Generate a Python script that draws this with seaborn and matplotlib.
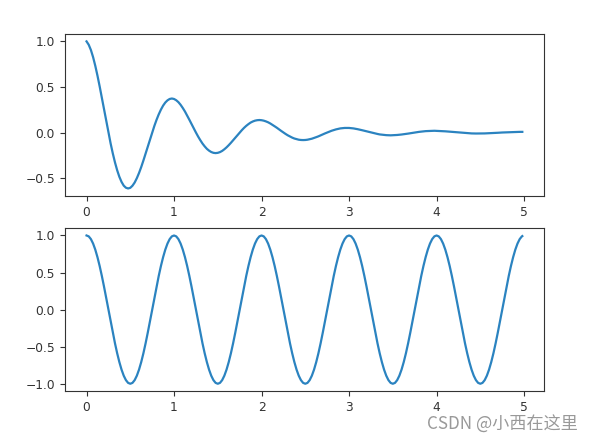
import numpy as np
import pandas as pd
import matplotlib
matplotlib.use("Agg")
import matplotlib.pyplot as plt
import seaborn as sb

# time samples (step 0.025, last point 4.98)
t = [0.000, 0.025, 0.050, 0.075, 0.100, 0.125, 0.150, 0.175, 0.200, 0.225,
     0.250, 0.275, 0.300, 0.325, 0.350, 0.375, 0.400, 0.425, 0.450, 0.475,
     0.500, 0.525, 0.550, 0.575, 0.600, 0.625, 0.650, 0.675, 0.700, 0.725,
     0.750, 0.775, 0.800, 0.825, 0.850, 0.875, 0.900, 0.925, 0.950, 0.975,
     1.000, 1.025, 1.050, 1.075, 1.100, 1.125, 1.150, 1.175, 1.200, 1.225,
     1.250, 1.275, 1.300, 1.325, 1.350, 1.375, 1.400, 1.425, 1.450, 1.475,
     1.500, 1.525, 1.550, 1.575, 1.600, 1.625, 1.650, 1.675, 1.700, 1.725,
     1.750, 1.775, 1.800, 1.825, 1.850, 1.875, 1.900, 1.925, 1.950, 1.975,
     2.000, 2.025, 2.050, 2.075, 2.100, 2.125, 2.150, 2.175, 2.200, 2.225,
     2.250, 2.275, 2.300, 2.325, 2.350, 2.375, 2.400, 2.425, 2.450, 2.475,
     2.500, 2.525, 2.550, 2.575, 2.600, 2.625, 2.650, 2.675, 2.700, 2.725,
     2.750, 2.775, 2.800, 2.825, 2.850, 2.875, 2.900, 2.925, 2.950, 2.975,
     3.000, 3.025, 3.050, 3.075, 3.100, 3.125, 3.150, 3.175, 3.200, 3.225,
     3.250, 3.275, 3.300, 3.325, 3.350, 3.375, 3.400, 3.425, 3.450, 3.475,
     3.500, 3.525, 3.550, 3.575, 3.600, 3.625, 3.650, 3.675, 3.700, 3.725,
     3.750, 3.775, 3.800, 3.825, 3.850, 3.875, 3.900, 3.925, 3.950, 3.975,
     4.000, 4.025, 4.050, 4.075, 4.100, 4.125, 4.150, 4.175, 4.200, 4.225,
     4.250, 4.275, 4.300, 4.325, 4.350, 4.375, 4.400, 4.425, 4.450, 4.475,
     4.500, 4.525, 4.550, 4.575, 4.600, 4.625, 4.650, 4.675, 4.700, 4.725,
     4.750, 4.775, 4.800, 4.825, 4.850, 4.875, 4.900, 4.925, 4.950, 4.975,
     4.980]

# damped wave (upper panel)
damped = [1.000, 0.963, 0.905, 0.827, 0.732, 0.624, 0.506, 0.381, 0.253, 0.125,
          0.000, -0.119, -0.229, -0.328, -0.414, -0.486, -0.542, -0.583, -0.606, -0.614,
          -0.607, -0.584, -0.549, -0.501, -0.444, -0.379, -0.307, -0.231, -0.153, -0.076,
          0.000, 0.072, 0.139, 0.199, 0.251, 0.295, 0.329, 0.353, 0.368, 0.373,
          0.368, 0.354, 0.333, 0.304, 0.269, 0.230, 0.186, 0.140, 0.093, 0.046,
          0.000, -0.044, -0.084, -0.121, -0.152, -0.179, -0.199, -0.214, -0.223, -0.226,
          -0.223, -0.215, -0.202, -0.184, -0.163, -0.139, -0.113, -0.085, -0.056, -0.028,
          0.000, 0.026, 0.051, 0.073, 0.092, 0.109, 0.121, 0.130, 0.135, 0.137,
          0.135, 0.130, 0.122, 0.112, 0.099, 0.084, 0.068, 0.052, 0.034, 0.017,
          0.000, -0.016, -0.031, -0.044, -0.056, -0.066, -0.073, -0.079, -0.082, -0.083,
          -0.082, -0.079, -0.074, -0.068, -0.060, -0.051, -0.042, -0.031, -0.021, -0.010,
          0.000, 0.010, 0.019, 0.027, 0.034, 0.040, 0.045, 0.048, 0.050, 0.050,
          0.050, 0.048, 0.045, 0.041, 0.036, 0.031, 0.025, 0.019, 0.013, 0.006,
          0.000, -0.006, -0.011, -0.016, -0.021, -0.024, -0.027, -0.029, -0.030, -0.031,
          -0.030, -0.029, -0.027, -0.025, -0.022, -0.019, -0.015, -0.012, -0.008, -0.004,
          0.000, 0.004, 0.007, 0.010, 0.013, 0.015, 0.016, 0.018, 0.018, 0.019,
          0.018, 0.018, 0.017, 0.015, 0.013, 0.011, 0.009, 0.007, 0.005, 0.002,
          0.000, -0.002, -0.004, -0.006, -0.008, -0.009, -0.010, -0.011, -0.011, -0.011,
          -0.011, -0.011, -0.010, -0.009, -0.008, -0.007, -0.006, -0.004, -0.003, -0.001,
          0.000, 0.001, 0.003, 0.004, 0.005, 0.005, 0.006, 0.006, 0.007, 0.007,
          0.007]

# plain cosine (lower panel)
wave = [1.000, 0.988, 0.951, 0.891, 0.809, 0.707, 0.588, 0.454, 0.309, 0.156,
        0.000, -0.156, -0.309, -0.454, -0.588, -0.707, -0.809, -0.891, -0.951, -0.988,
        -1.000, -0.988, -0.951, -0.891, -0.809, -0.707, -0.588, -0.454, -0.309, -0.156,
        0.000, 0.156, 0.309, 0.454, 0.588, 0.707, 0.809, 0.891, 0.951, 0.988,
        1.000, 0.988, 0.951, 0.891, 0.809, 0.707, 0.588, 0.454, 0.309, 0.156,
        0.000, -0.156, -0.309, -0.454, -0.588, -0.707, -0.809, -0.891, -0.951, -0.988,
        -1.000, -0.988, -0.951, -0.891, -0.809, -0.707, -0.588, -0.454, -0.309, -0.156,
        0.000, 0.156, 0.309, 0.454, 0.588, 0.707, 0.809, 0.891, 0.951, 0.988,
        1.000, 0.988, 0.951, 0.891, 0.809, 0.707, 0.588, 0.454, 0.309, 0.156,
        0.000, -0.156, -0.309, -0.454, -0.588, -0.707, -0.809, -0.891, -0.951, -0.988,
        -1.000, -0.988, -0.951, -0.891, -0.809, -0.707, -0.588, -0.454, -0.309, -0.156,
        0.000, 0.156, 0.309, 0.454, 0.588, 0.707, 0.809, 0.891, 0.951, 0.988,
        1.000, 0.988, 0.951, 0.891, 0.809, 0.707, 0.588, 0.454, 0.309, 0.156,
        0.000, -0.156, -0.309, -0.454, -0.588, -0.707, -0.809, -0.891, -0.951, -0.988,
        -1.000, -0.988, -0.951, -0.891, -0.809, -0.707, -0.588, -0.454, -0.309, -0.156,
        0.000, 0.156, 0.309, 0.454, 0.588, 0.707, 0.809, 0.891, 0.951, 0.988,
        1.000, 0.988, 0.951, 0.891, 0.809, 0.707, 0.588, 0.454, 0.309, 0.156,
        0.000, -0.156, -0.309, -0.454, -0.588, -0.707, -0.809, -0.891, -0.951, -0.988,
        -1.000, -0.988, -0.951, -0.891, -0.809, -0.707, -0.588, -0.454, -0.309, -0.156,
        0.000, 0.156, 0.309, 0.454, 0.588, 0.707, 0.809, 0.891, 0.951, 0.988,
        0.992]

df = pd.DataFrame({"t": t, "damped": damped, "wave": wave})

plt.rcParams["font.size"] = 8.8
plt.rcParams["axes.edgecolor"] = "#333333"
plt.rcParams["xtick.color"] = "#333333"
plt.rcParams["ytick.color"] = "#333333"

fig = plt.figure(figsize=(5.94, 4.42), dpi=100)
ax1 = fig.add_axes([0.109, 0.557, 0.807, 0.366])
ax2 = fig.add_axes([0.109, 0.115, 0.807, 0.369])

line_color = "#2b83c0"
sb.lineplot(data=df, x="t", y="damped", ax=ax1, color=line_color, linewidth=1.6)
sb.lineplot(data=df, x="t", y="wave", ax=ax2, color=line_color, linewidth=1.6)

for ax in (ax1, ax2):
    ax.set_xlabel("")
    ax.set_ylabel("")
    ax.set_xticks([0, 1, 2, 3, 4, 5])

ax1.set_yticks([-0.5, 0.0, 0.5, 1.0])
ax2.set_yticks([-1.0, -0.5, 0.0, 0.5, 1.0])

# watermark
fig.text(0.973, 0.038, "CSDN @小西在这里", ha="right", va="center", fontsize=12.3,
         color="#999999", family=["Noto Sans CJK SC", "DejaVu Sans"])

fig.savefig("out.png", dpi=100)
